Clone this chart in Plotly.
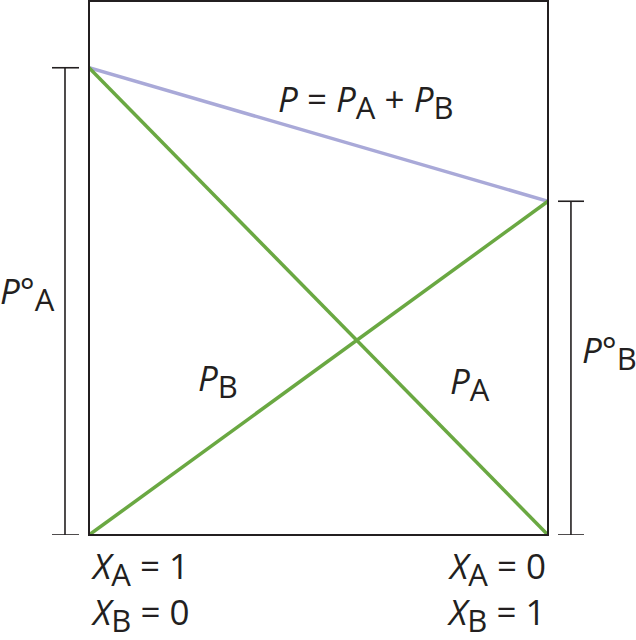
import plotly.graph_objects as go

# Data: mole fraction of A (left = 1, right = 0) and vapour pressures
x_a = [1, 0]
p_a_pure = 7.0   # P°A
p_b_pure = 5.0   # P°B
p_a = [p_a_pure, 0]          # partial pressure of A
p_b = [0, p_b_pure]          # partial pressure of B
p_total = [p_a[i] + p_b[i] for i in range(2)]
y_top = 8.0

GREEN = "#6aa842"
LAV = "#a9a9d8"
INK = "#231f20"
FONT = "Open Sans"

fig = go.Figure()
fig.add_trace(go.Scatter(x=x_a, y=p_total, mode="lines",
                         line=dict(color=LAV, width=3.5), cliponaxis=False))
fig.add_trace(go.Scatter(x=x_a, y=p_a, mode="lines",
                         line=dict(color=GREEN, width=3.5), cliponaxis=False))
fig.add_trace(go.Scatter(x=x_a, y=p_b, mode="lines",
                         line=dict(color=GREEN, width=3.5), cliponaxis=False))

shapes = [
    dict(type="rect", xref="paper", yref="paper", x0=0, x1=1, y0=0, y1=1,
         line=dict(color=INK, width=2)),
    # left bracket (P°A)
    dict(type="line", xref="paper", yref="y", x0=-0.0523, x1=-0.0523, y0=0, y1=p_a_pure,
         line=dict(color=INK, width=1.6)),
    dict(type="line", xref="paper", yref="y", x0=-0.0806, x1=-0.0218, y0=p_a_pure, y1=p_a_pure,
         line=dict(color=INK, width=1.6)),
    dict(type="line", xref="paper", yref="y", x0=-0.0806, x1=-0.0218, y0=0, y1=0,
         line=dict(color=INK, width=1.6)),
    # right bracket (P°B)
    dict(type="line", xref="paper", yref="y", x0=1.050, x1=1.050, y0=0, y1=p_b_pure,
         line=dict(color=INK, width=1.6)),
    dict(type="line", xref="paper", yref="y", x0=1.0218, x1=1.0784, y0=p_b_pure, y1=p_b_pure,
         line=dict(color=INK, width=1.6)),
    dict(type="line", xref="paper", yref="y", x0=1.0218, x1=1.0784, y0=0, y1=0,
         line=dict(color=INK, width=1.6)),
]

fs = 35
def sub(s):
    return "<sub><span style='font-size:31px'>%s</span></sub>" % s

def ann(text, x, y, xanchor="center", yanchor="middle", xref="x", yref="y"):
    return dict(text=text, x=x, y=y, xref=xref, yref=yref, showarrow=False,
                xanchor=xanchor, yanchor=yanchor,
                font=dict(family=FONT, size=fs, color=INK))

annotations = [
    ann("<i>P</i> = <i>P</i>" + sub("A") + " + <i>P</i>" + sub("B"), 0.397, 6.5),
    ann("<i>P</i>" + sub("B"), 0.719, 2.32),
    ann("<i>P</i>" + sub("A"), 0.170, 2.27),
    ann("<i>P</i>°" + sub("A"), -0.135, 0.452, xref="paper", yref="paper"),
    ann("<i>P</i>°" + sub("B"), 1.135, 0.342, xref="paper", yref="paper"),
    ann("<i>X</i>" + sub("A") + " = 1", 0, -0.062, xanchor="left", xref="paper", yref="paper"),
    ann("<i>X</i>" + sub("B") + " = 0", 0, -0.148, xanchor="left", xref="paper", yref="paper"),
    ann("<i>X</i>" + sub("A") + " = 0", 1, -0.062, xanchor="right", xref="paper", yref="paper"),
    ann("<i>X</i>" + sub("B") + " = 1", 1, -0.148, xanchor="right", xref="paper", yref="paper"),
]

fig.update_layout(
    width=636, height=640,
    margin=dict(l=89, r=88, t=1, b=105),
    paper_bgcolor="white", plot_bgcolor="white",
    showlegend=False,
    shapes=shapes, annotations=annotations,
    xaxis=dict(range=[1, 0], visible=False, showgrid=False, zeroline=False),
    yaxis=dict(range=[0, y_top], visible=False, showgrid=False, zeroline=False),
)

fig.write_html("out.html", config={"displayModeBar": False},
               post_script="document.body.style.margin='0';")
